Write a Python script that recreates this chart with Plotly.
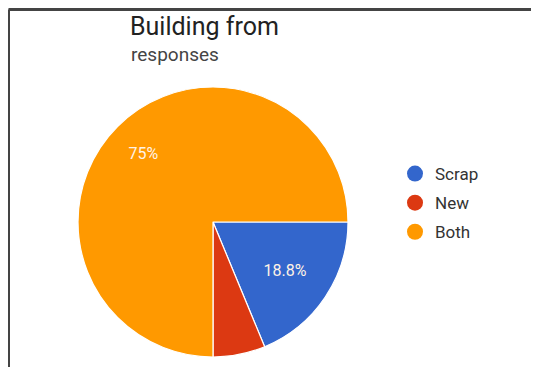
import plotly.graph_objects as go

labels = ["Scrap", "New", "Both"]
counts = [3, 1, 12]
colors = ["#3366CC", "#DC3912", "#FF9900"]
nb = "\u00a0"
text_formats = ["%{percent:.1%}", "", "%{percent:.0%}" + nb * 11 + "<br>" + nb + "<br>" + nb]

# page body has an 8px margin, so the figure is drawn 8px smaller and offset
OFF = 8
W, H = 539 - OFF, 367 - OFF
cx, cy, r = 213 - OFF, 222 - OFF, 135


def px(x):
    return (x - OFF) / W


def py(y):
    return 1 - (y - OFF) / H


fig = go.Figure()
fig.add_trace(go.Pie(
    labels=labels, values=counts, sort=False, direction="clockwise", rotation=90,
    marker=dict(colors=colors, line=dict(color="white", width=1.2)),
    texttemplate=text_formats, textposition="inside", insidetextorientation="horizontal",
    textfont=dict(color="#FFF3E6", size=16, family="Roboto"),
    showlegend=False, hoverinfo="label+percent",
    domain=dict(x=[(cx - r) / W, (cx + r) / W], y=[1 - (cy + r) / H, 1 - (cy - r) / H]),
))
for lab, col in zip(labels, colors):
    fig.add_trace(go.Scatter(x=[None], y=[None], mode="markers", name=lab, legendgroup=lab,
                             marker=dict(symbol="circle", size=18, color=col)))

fig.update_layout(
    width=W, height=H, margin=dict(l=0, r=0, t=0, b=0),
    paper_bgcolor="white", plot_bgcolor="white",
    xaxis=dict(visible=False, domain=[0.5, 0.501]), yaxis=dict(visible=False, domain=[0.5, 0.501]),
    font=dict(family="Roboto", color="#222222"),
    legend=dict(x=px(395), y=py(156), xanchor="left", yanchor="top",
                font=dict(size=17, color="#333333"), itemsizing="trace", tracegroupgap=4,
                bgcolor="rgba(0,0,0,0)"),
    annotations=[
        dict(text="Building from", x=px(128), y=py(27), xref="paper", yref="paper",
             xanchor="left", yanchor="middle", showarrow=False,
             font=dict(size=25, color="#222222", family="Roboto")),
        dict(text="responses", x=px(129), y=py(54), xref="paper", yref="paper",
             xanchor="left", yanchor="middle", showarrow=False,
             font=dict(size=19, color="#444444", family="Roboto")),
    ],
    shapes=[
        dict(type="line", xref="paper", yref="paper", x0=px(8.5), x1=1, y0=py(9.5), y1=py(9.5),
             line=dict(color="#444444", width=3)),
        dict(type="line", xref="paper", yref="paper", x0=px(8.5), x1=px(8.5), y0=0, y1=py(9.5),
             line=dict(color="#444444", width=3)),
    ],
)
fig.write_html("out.html", config={"displayModeBar": False})
